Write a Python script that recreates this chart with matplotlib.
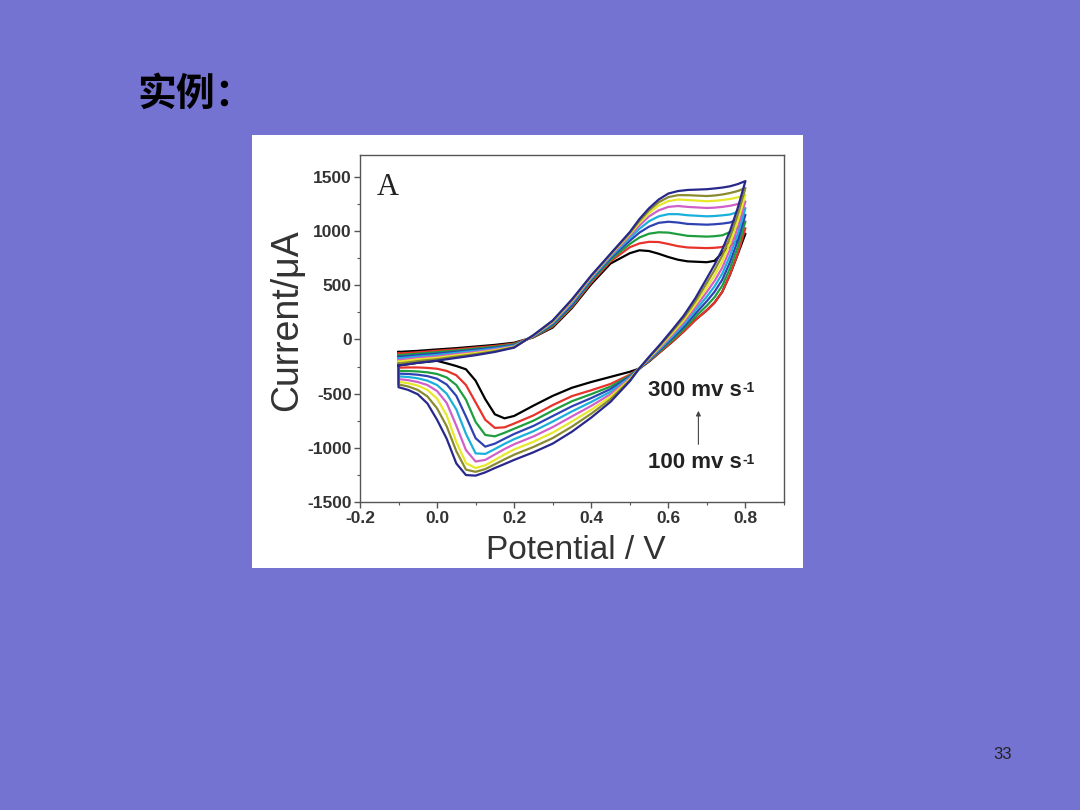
import matplotlib
matplotlib.use('Agg')
import matplotlib.pyplot as plt
from matplotlib.patches import Rectangle
from matplotlib.ticker import MultipleLocator

# potentials of the forward (anodic) and reverse (cathodic) scans, V
E_fwd = [-0.1, -0.05, 0.0, 0.05, 0.1, 0.15, 0.2, 0.25, 0.3, 0.35, 0.4, 0.45, 0.5,
         0.525, 0.55, 0.575, 0.6, 0.625, 0.65, 0.7, 0.72, 0.74, 0.76, 0.78, 0.8]
E_rev = [0.8, 0.78, 0.76, 0.74, 0.72, 0.70, 0.67, 0.64, 0.61, 0.58, 0.55, 0.525, 0.5,
         0.45, 0.4, 0.35, 0.3, 0.25, 0.2, 0.175, 0.15, 0.125, 0.1, 0.075, 0.05, 0.025,
         0.0, -0.025, -0.05, -0.075, -0.1]

# scan rates 100 -> 300 mV/s, currents in uA
rates = [100, 125, 150, 175, 200, 225, 250, 275, 300]
fwd = {
    100: [-115, -105, -92, -80, -65, -50, -30, 20, 110, 290, 510, 700, 795, 822, 815, 790, 760, 735, 720, 712, 725, 800, 860, 915, 975],
    125: [-130, -118, -104, -91, -75, -60, -38, 22, 120, 300, 525, 720, 850, 885, 900, 898, 880, 860, 848, 842, 845, 852, 900, 955, 1026],
    150: [-145, -131, -117, -102, -85, -68, -45, 25, 130, 310, 540, 735, 880, 940, 975, 988, 985, 970, 955, 948, 952, 960, 990, 1030, 1088],
    175: [-160, -144, -130, -113, -95, -76, -52, 28, 140, 320, 552, 750, 910, 985, 1040, 1075, 1085, 1078, 1065, 1058, 1062, 1068, 1078, 1105, 1150],
    200: [-175, -157, -143, -124, -105, -84, -58, 31, 150, 335, 562, 762, 935, 1020, 1090, 1135, 1155, 1155, 1145, 1135, 1138, 1144, 1152, 1175, 1211],
    225: [-190, -170, -156, -135, -115, -92, -63, 34, 158, 345, 572, 772, 955, 1050, 1135, 1190, 1222, 1230, 1222, 1212, 1215, 1222, 1232, 1248, 1272],
    250: [-205, -183, -169, -146, -125, -100, -68, 36, 164, 355, 580, 780, 970, 1075, 1165, 1235, 1275, 1290, 1285, 1274, 1278, 1285, 1295, 1310, 1334],
    275: [-222, -199, -182, -158, -135, -108, -72, 38, 170, 362, 585, 785, 980, 1092, 1190, 1265, 1312, 1330, 1330, 1322, 1327, 1336, 1350, 1368, 1396],
    300: [-240, -215, -195, -170, -145, -115, -75, 40, 175, 370, 590, 790, 990, 1110, 1210, 1290, 1345, 1368, 1378, 1385, 1392, 1400, 1412, 1432, 1460],
}
rev = {
    100: [975, 785, 598, 440, 340, 270, 180, 75, -22, -112, -203, -268, -298, -345, -392, -445, -520, -610, -705, -727, -690, -550, -380, -275, -245, -220, -197, -206, -215, -228, -240],
    125: [1026, 790, 600, 440, 340, 270, 180, 75, -20, -110, -200, -266, -325, -410, -468, -522, -605, -700, -775, -810, -815, -740, -580, -420, -330, -290, -270, -262, -258, -258, -260],
    150: [1088, 850, 657, 496, 390, 312, 209, 96, -5, -100, -194, -266, -334, -434, -504, -569, -656, -749, -823, -860, -893, -880, -760, -555, -420, -350, -318, -303, -295, -291, -290],
    175: [1150, 910, 714, 551, 440, 354, 237, 116, 11, -90, -189, -266, -342, -457, -540, -616, -706, -797, -871, -915, -960, -988, -910, -710, -520, -415, -362, -338, -325, -318, -315],
    200: [1211, 970, 771, 607, 490, 396, 266, 137, 26, -80, -183, -266, -351, -481, -576, -663, -757, -846, -919, -962, -1010, -1055, -1050, -870, -645, -500, -420, -380, -358, -346, -340],
    225: [1272, 1030, 829, 663, 540, 439, 294, 158, 42, -70, -177, -266, -359, -504, -612, -709, -808, -894, -966, -1010, -1060, -1110, -1125, -1020, -795, -585, -475, -420, -392, -375, -365],
    250: [1334, 1090, 886, 719, 590, 481, 323, 178, 57, -60, -171, -266, -368, -528, -648, -756, -859, -943, -1014, -1060, -1110, -1160, -1185, -1140, -945, -700, -545, -465, -425, -403, -390],
    275: [1396, 1150, 943, 774, 640, 523, 351, 199, 73, -50, -166, -266, -376, -551, -684, -803, -909, -991, -1062, -1105, -1150, -1195, -1220, -1200, -1030, -800, -635, -525, -465, -433, -415],
    300: [1460, 1211, 1000, 830, 690, 565, 380, 220, 88, -40, -160, -266, -385, -575, -720, -850, -960, -1040, -1110, -1148, -1185, -1225, -1255, -1250, -1143, -915, -740, -590, -505, -465, -440],
}
line_colors = ['#000000', '#e8332b', '#1f9e3f', '#2f42b4', '#1ab0dc', '#d060c8', '#e8e82a', '#8a8a30', '#28288c']

x_ticks = [-0.2, 0.0, 0.2, 0.4, 0.6, 0.8]
y_ticks = [-1500, -1000, -500, 0, 500, 1000, 1500]

plt.rcParams['axes.unicode_minus'] = False

fig = plt.figure(figsize=(10.8, 8.1), dpi=100)
fig.patch.set_facecolor('#7573d1')

# white picture pasted on the slide
fig.add_artist(Rectangle((0.2333, 0.2988), 0.510, 0.5346, transform=fig.transFigure,
                         facecolor='white', edgecolor='none', zorder=0))

fig.text(0.127, 0.883, '实例：', fontsize=28, fontweight='bold',
         family=['Noto Sans CJK SC', 'DejaVu Sans'], va='center', ha='left', color='black')
fig.text(0.9287, 0.068, '33', fontsize=12, family='Liberation Sans', ha='center', va='center', color='#222222')

ax = fig.add_axes([0.3333, 0.380, 0.3926, 0.4286])
ax.set_facecolor('white')

for r, c in zip(rates, line_colors):
    xs = E_fwd + E_rev + [E_fwd[0]]
    ys = fwd[r] + rev[r] + [fwd[r][0]]
    ax.plot(xs, ys, color=c, lw=1.6, solid_joinstyle='round')

ax.set_xlim(-0.2, 0.9)
ax.set_ylim(-1500, 1700)
ax.set_xticks(x_ticks)
ax.set_xticklabels(['%.1f' % v for v in x_ticks])
ax.set_yticks(y_ticks)
ax.set_yticklabels([str(v) for v in y_ticks])
ax.xaxis.set_minor_locator(MultipleLocator(0.1))
ax.yaxis.set_minor_locator(MultipleLocator(250))
ax.tick_params(which='major', direction='out', length=4, width=1, color='#555555', pad=2)
ax.tick_params(which='minor', direction='out', length=2.5, width=0.8, color='#555555')
for lab in ax.get_xticklabels() + ax.get_yticklabels():
    lab.set_fontfamily('Liberation Sans')
    lab.set_fontweight('bold')
    lab.set_fontsize(12.5)
    lab.set_color('#333333')
for s in ax.spines.values():
    s.set_color('#555555')
    s.set_linewidth(1.0)

ax.set_xlabel('Potential / V', fontsize=24, family='Liberation Sans', color='#333333', va='center')
ax.xaxis.set_label_coords(0.509, -0.138)
ax.set_ylabel('Current/μA', fontsize=27, family='Liberation Sans', color='#333333', va='center')
ax.yaxis.set_label_coords(-0.172, 0.524)

ax.text(-0.156, 1334, 'A', fontsize=22, family='Liberation Serif', va='baseline', ha='left', color='#222222')

# scan-rate labels with a raised "-1"
for y_lab, txt in [(-466, '300 mv s'), (-1131, '100 mv s')]:
    t = ax.text(0.546, y_lab, txt, fontsize=16, fontweight='bold', family='Liberation Sans',
                va='center', ha='left', color='#222222')
    ax.annotate('-1', xy=(1, 1), xycoords=t, xytext=(1, -1), textcoords='offset points',
                ha='left', va='top', fontsize=10, fontweight='bold', family='Liberation Sans',
                color='#222222')
ax.annotate('', xy=(0.678, -632), xytext=(0.678, -992),
            arrowprops=dict(arrowstyle='-|>', color='#444444', lw=0.8, mutation_scale=7))

plt.savefig('out.png', dpi=100, facecolor=fig.get_facecolor())
